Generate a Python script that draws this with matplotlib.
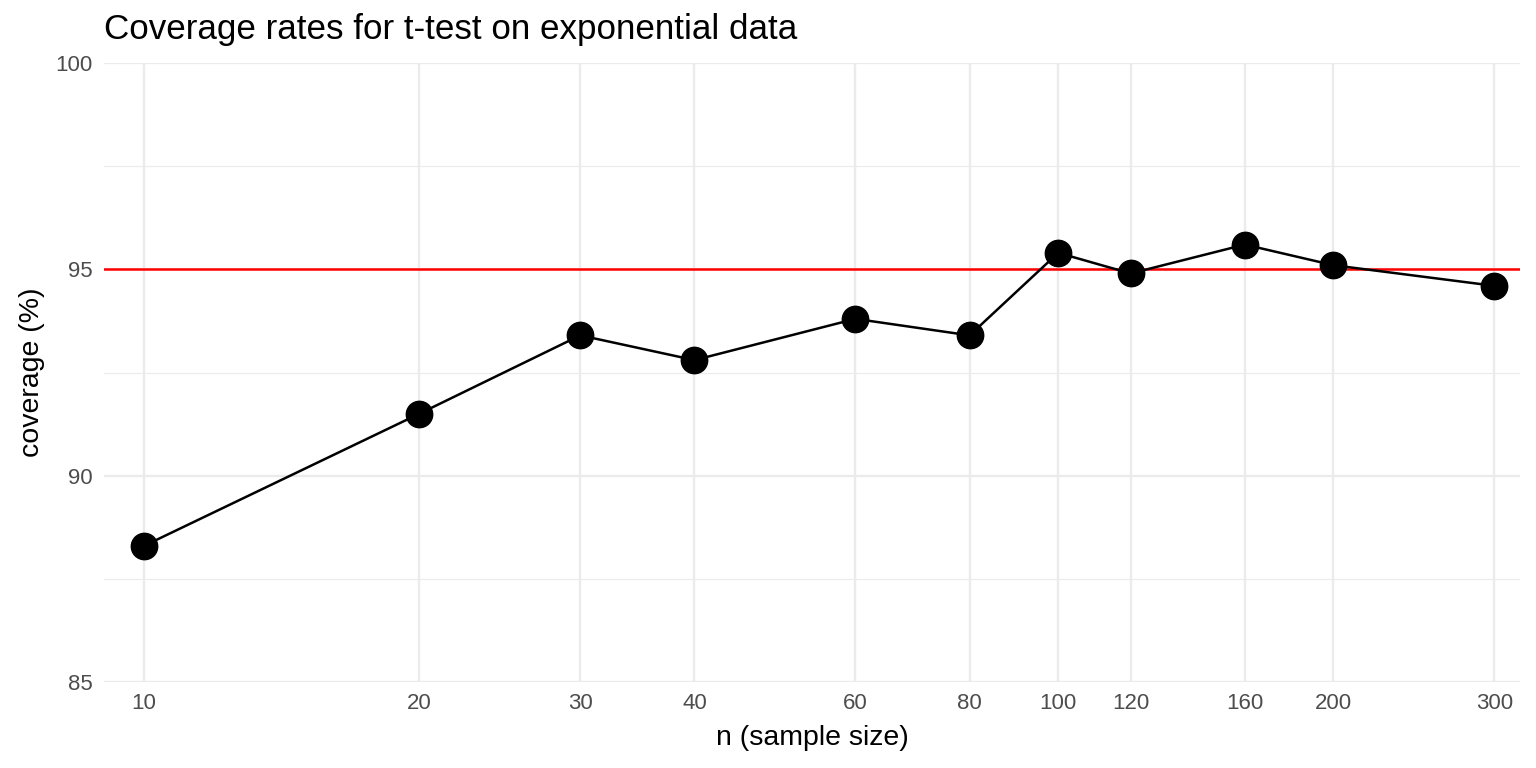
import numpy as np
import matplotlib
matplotlib.use("Agg")
import matplotlib.pyplot as plt
from matplotlib.ticker import FixedLocator, NullLocator, FixedFormatter

sample_sizes = [10, 20, 30, 40, 60, 80, 100, 120, 160, 200, 300]
coverage = [88.3, 91.5, 93.4, 92.8, 93.8, 93.4, 95.4, 94.9, 95.6, 95.1, 94.6]
nominal = 95
y_ticks = [85, 90, 95, 100]
y_minor = [87.5, 92.5, 97.5]

plt.rcParams["font.family"] = ["Liberation Sans", "DejaVu Sans"]

fig = plt.figure(figsize=(15.36, 7.68), dpi=100)
ax = fig.add_axes([104 / 1536, 86 / 768, (1520 - 104) / 1536, (682 - 63) / 768])

ax.set_xscale("log")
ax.set_xlim(9.04, 320)
ax.set_ylim(85, 100)

grid_col = "#EBEBEB"
ax.xaxis.set_major_locator(FixedLocator(sample_sizes))
ax.xaxis.set_major_formatter(FixedFormatter([str(n) for n in sample_sizes]))
ax.xaxis.set_minor_locator(NullLocator())
ax.yaxis.set_major_locator(FixedLocator(y_ticks))
ax.yaxis.set_minor_locator(FixedLocator(y_minor))
ax.grid(which="major", color=grid_col, linewidth=1.7)
ax.grid(which="minor", axis="y", color=grid_col, linewidth=0.85)
ax.set_axisbelow(True)

for s in ax.spines.values():
    s.set_visible(False)
ax.tick_params(which="both", length=0, labelsize=16, labelcolor="#4D4D4D")
ax.tick_params(axis="x", pad=8)
ax.tick_params(axis="y", pad=8)

ax.axhline(nominal, color="#FF0000", linewidth=1.8, zorder=2)
ax.plot(sample_sizes, coverage, color="black", linewidth=1.8, zorder=3)
ax.plot(sample_sizes, coverage, "o", color="black", markersize=19, zorder=4)

ax.set_xlabel("n (sample size)", fontsize=20.5, labelpad=8)
ax.set_ylabel("coverage (%)", fontsize=20.5, labelpad=8)
fig.text(104 / 1536, 1 - 30 / 768, "Coverage rates for t-test on exponential data",
         fontsize=25.2, ha="left", va="center")

fig.savefig("out.png", dpi=100, facecolor="white")
